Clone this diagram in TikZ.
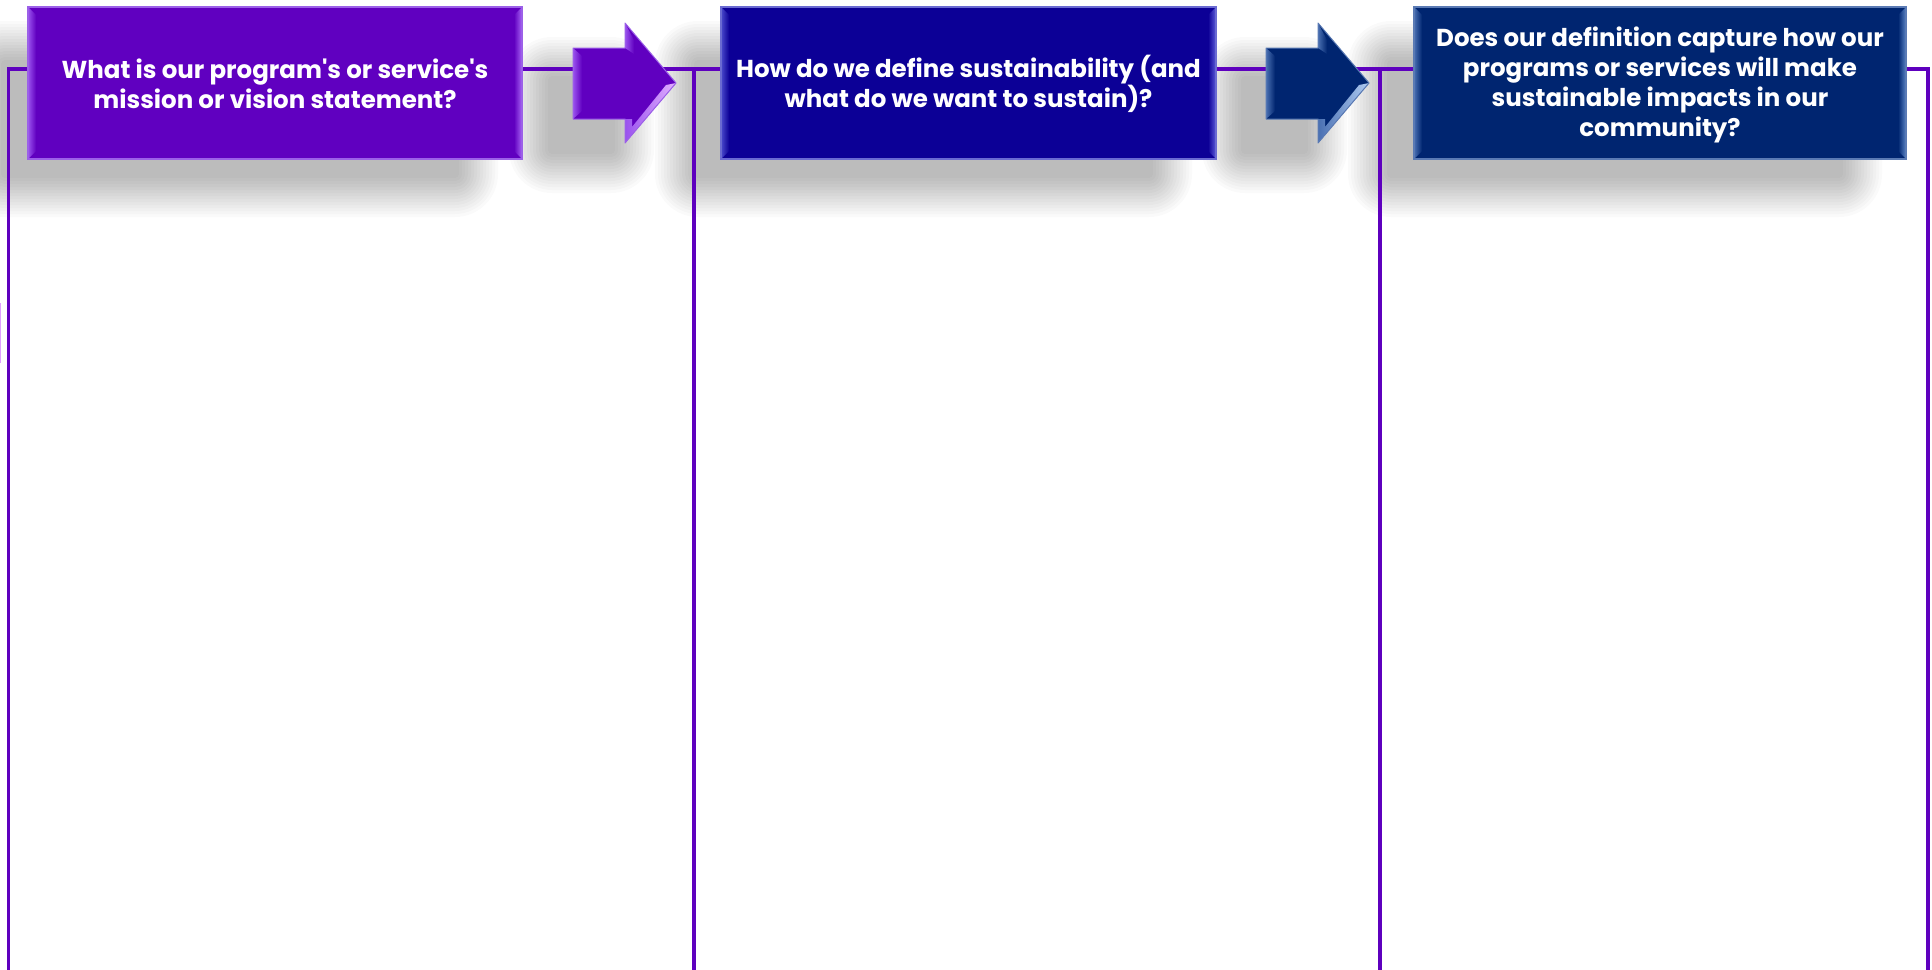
\documentclass[tikz,border=0pt]{standalone}
\usepackage{fontspec}
\setmainfont{Poppins}[Ligatures=TeXOff]
\usetikzlibrary{calc}
\definecolor{linecol}{HTML}{5E00BE}
\definecolor{faceA}{HTML}{6000C0}
\definecolor{bevA}{HTML}{9A52EE}
\definecolor{bevAr}{HTML}{A866F5}
\definecolor{bordA}{HTML}{9C60E8}
\definecolor{hiA}{HTML}{E2B0FF}
\definecolor{faceB}{HTML}{0C0096}
\definecolor{bevB}{HTML}{4A4ACC}
\definecolor{bevBr}{HTML}{5C5CDA}
\definecolor{bordB}{HTML}{6A6AD2}
\definecolor{faceC}{HTML}{002570}
\definecolor{bevC}{HTML}{4A70B2}
\definecolor{bevCr}{HTML}{5A84C4}
\definecolor{bordC}{HTML}{5A7AB4}
\definecolor{hiC}{HTML}{B0CCF2}
\definecolor{fragcol}{HTML}{E0A0FF}
\newcommand\mysoftshadow[4]{%
  \foreach \i in {0,...,13}{%
    \fill[black,opacity=0.019,rounded corners={3*\i+4}]
      ({#1+18-3*\i},{#2+18-3*\i}) rectangle ({#3-18+3*\i},{#4-18+3*\i});
  }%
}
\newcommand\mybevbox[8]{%
  \fill[#5] (#1,#2) rectangle (#3,#4);
  \shade[left color=#6,right color=#5] (#1,#2) -- ({#1+8},{#2+8}) -- ({#1+8},{#4-8}) -- (#1,#4) -- cycle;
  \shade[left color=#5,right color=#7] (#3,#2) -- ({#3-8},{#2+8}) -- ({#3-8},{#4-8}) -- (#3,#4) -- cycle;
  \draw[#8,line width=1.2pt] (#1,#2) rectangle (#3,#4);
}
\newcommand\myblockarrow[5]{%
  \fill[#2] (#1,48) -- ({#1+52},48) -- ({#1+52},23) -- ({#1+103},83) -- ({#1+52},143) -- ({#1+52},119) -- (#1,119) -- cycle;
  \shade[left color=#3,right color=#2] (#1,48) -- ({#1+9},56) -- ({#1+9},111) -- (#1,119) -- cycle;
  \shade[left color=#3,right color=#2] ({#1+52},23) -- ({#1+61},40) -- ({#1+61},54) -- ({#1+52},48) -- cycle;
  \shade[left color=#3,right color=#4] ({#1+103},83) -- ({#1+52},143) -- ({#1+52},119) -- ({#1+59},119) -- ({#1+59},127) -- ({#1+93},85) -- cycle;
  \draw[#5,line width=1pt,line join=round] (#1,48) -- ({#1+52},48) -- ({#1+52},23) -- ({#1+103},83) -- ({#1+52},143) -- ({#1+52},119) -- (#1,119) -- cycle;
}
\tikzset{
  conn/.style={draw=linecol,line width=3.2pt,line join=miter},
  qtext/.style={align=center,text=white,inner sep=0pt,
    font=\bfseries\fontsize{24.5}{30}\selectfont},
}
\begin{document}
\begin{tikzpicture}[x=1pt,y=-1pt]
\useasboundingbox (0,0) rectangle (1932,969);
\clip (0,0) rectangle (1932,969);
\fill[white] (0,0) rectangle (1932,969);
% shadows
\mysoftshadow{-17}{42}{477}{196}
\mysoftshadow{676}{42}{1171}{196}
\mysoftshadow{1369}{42}{1861}{196}
\mysoftshadow{530}{58}{633}{172}
\mysoftshadow{1223}{58}{1326}{172}
% frame lines
\coordinate (c0) at (8.5,69);
\coordinate (c1) at (694,69);
\coordinate (c2) at (1380,69);
\coordinate (c3) at (1928,69);
\coordinate (d0) at (8.5,975);
\coordinate (d1) at (694,975);
\coordinate (d2) at (1380,975);
\coordinate (d3) at (1928,975);
\draw[conn] (d0) -- (c0) -- (c3) -- (d3);
\draw[conn] (c1) -- (d1);
\draw[conn] (c2) -- (d2);
\draw[fragcol,line width=1pt] (0.5,303) -- (0.5,363);
% boxes
\mybevbox{28}{7}{522}{159}{faceA}{bevA}{bevAr}{bordA}
\mybevbox{721}{7}{1216}{159}{faceB}{bevB}{bevBr}{bordB}
\mybevbox{1414}{7}{1906}{159}{faceC}{bevC}{bevCr}{bordC}
% arrows
\myblockarrow{573}{faceA}{bevA}{hiA}{bordA}
\myblockarrow{1266}{faceC}{bevC}{hiC}{bordC}
% texts
\node[qtext] (t1) at (275,84) {What is our program's or service's\\mission or vision statement?};
\node[qtext] (t2) at (968.5,84) {How do we define sustainability (and\\what do we want to sustain)?};
\node[qtext] (t3) at (1660,85) {Does our definition capture how our\\programs or services will make\\sustainable impacts in our\\community?};
\end{tikzpicture}
\end{document}
